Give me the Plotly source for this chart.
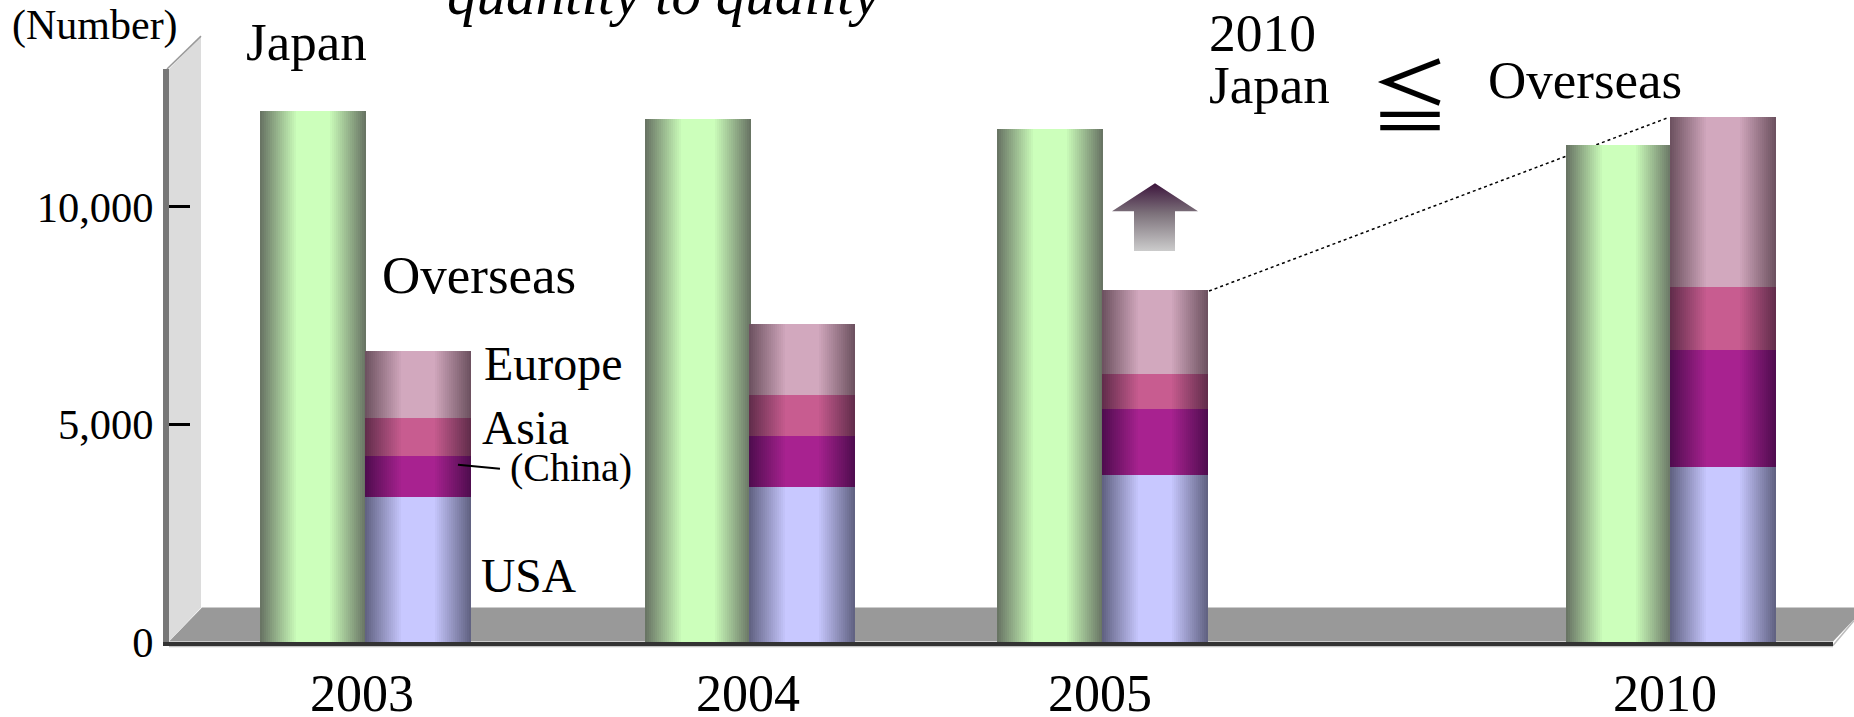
import plotly.graph_objects as go

# ---------- data ----------
years = ["2003", "2004", "2005", "2010"]
japan = [12210, 12030, 11800, 11430]
usa = [3330, 3565, 3835, 4025]
china = [945, 1165, 1510, 2675]
asia = [870, 945, 810, 1470]
europe = [1550, 1625, 1930, 3900]
y_ticks = [0, 5000, 10000]
y_tick_labels = ["0", "5,000", "10,000"]

# ---------- layout geometry (pixels of the 1854x717 page) ----------
W, H = 1854, 717
L, R, T, B = 169, 1833, 68.6, 642.5
PX_PER_UNIT = 0.04358
japan_left = [260, 645, 997, 1566]
overseas_left = [365, 749, 1102, 1670]
year_label_x = [362, 748, 1100, 1665]
BAR_W = 106
STEP = 2
FONT = "Liberation Serif"


def px(x):
    return (x - L) / (R - L)


def py(y):
    return (B - y) / (B - T)


def val(y):
    return (B - y) / PX_PER_UNIT


def hex_rgb(c):
    return [int(c[i:i + 2], 16) for i in (1, 3, 5)]


def shade(edge, centre, u):
    d = abs(u - 0.5) * 2
    t = 0 if d < 0.3 else (d - 0.3) / 0.7
    e, c = hex_rgb(edge), hex_rgb(centre)
    return "rgb(%d,%d,%d)" % tuple(round(c[i] + (e[i] - c[i]) * t) for i in range(3))


def cyl_trace(name, lefts, values, bases, edge, centre):
    xs, ys, bs, cs = [], [], [], []
    n = BAR_W // STEP
    for left, v, b in zip(lefts, values, bases):
        for k in range(n):
            xs.append(left + (k + 0.5) * STEP)
            ys.append(v)
            bs.append(b)
            cs.append(shade(edge, centre, (k + 0.5) / n))
    return go.Bar(name=name, x=xs, y=ys, base=bs, width=STEP,
                  marker=dict(color=cs, line=dict(width=0)),
                  showlegend=False, hoverinfo="skip")


fig = go.Figure()

fig.add_trace(cyl_trace("Japan", japan_left, japan, [0] * 4, "#667162", "#ccffbb"))
base = [0, 0, 0, 0]
stack = [("USA", usa, "#5f6080", "#c8c8ff"),
         ("China", china, "#4e0c4e", "#a82290"),
         ("Asia", asia, "#602c4a", "#c85c90"),
         ("Europe", europe, "#6b505e", "#d2a8be")]
for name, values, edge, centre in stack:
    fig.add_trace(cyl_trace(name, overseas_left, values, base, edge, centre))
    base = [a + b for a, b in zip(base, values)]

# arrow with vertical gradient
ax = [1155, 1198, 1175, 1175, 1134, 1134, 1112, 1155]
ay = [val(v) for v in [183, 211, 211, 251, 251, 211, 211, 183]]
fig.add_trace(go.Scatter(x=ax, y=ay, mode="lines", fill="toself", line=dict(width=0),
                         fillgradient=dict(type="vertical",
                                           colorscale=[[0, "#cccccc"], [0.55, "#7d727b"], [1, "#3c143c"]]),
                         showlegend=False, hoverinfo="skip", cliponaxis=False))

shapes = [
    # floor
    dict(type="path", xref="paper", yref="paper", layer="below", line=dict(width=0), fillcolor="#999999",
         path=f"M {px(169)} {py(642)} L {px(202)} {py(608)} L {px(1854)} {py(608)} L {px(1854)} {py(620)} L {px(1833)} {py(642)} Z"),
    # wall
    dict(type="path", xref="paper", yref="paper", layer="below", line=dict(width=0), fillcolor="#dcdcdc",
         path=f"M {px(169)} {py(T)} L {px(201)} {py(35.7)} L {px(201)} {py(608)} L {px(169)} {py(642)} Z"),
    dict(type="line", xref="paper", yref="paper", layer="below", line=dict(color="#999999", width=1.5),
         x0=px(167), y0=py(T), x1=px(201), y1=py(35.7)),
    # front edge highlights
    dict(type="line", xref="paper", yref="paper", layer="below", line=dict(color="#bbbbbb", width=1.5),
         x0=px(1833), y0=py(646), x1=px(1854), y1=py(621)),
    dict(type="line", xref="paper", yref="paper", layer="below", line=dict(color="#c4c4c4", width=1.5),
         x0=px(169), y0=py(647), x1=px(1833), y1=py(647)),
    # dotted connector
    dict(type="line", xref="paper", yref="paper", layer="below", line=dict(color="#000000", width=1.5, dash="dot"),
         x0=px(1209), y0=py(291), x1=px(1669), y1=py(117)),
    # leader line
    dict(type="line", xref="paper", yref="paper", layer="above", line=dict(color="#000000", width=2),
         x0=px(458), y0=py(465), x1=px(500), y1=py(469)),
]

labels = [
    ("(Number)", 11, 37, 42, "normal"),
    ("Japan", 245, 56, 53, "normal"),
    ("Overseas", 381, 290, 53, "normal"),
    ("Europe", 483, 377, 48, "normal"),
    ("Asia", 481, 441.5, 47.5, "normal"),
    ("(China)", 509, 478.5, 40, "normal"),
    ("USA", 480, 590, 47.5, "normal"),
    ("2010", 1208, 47.5, 53.5, "normal"),
    ("Japan", 1208, 99, 53, "normal"),
    ("Overseas", 1487, 94, 53, "normal"),
    ("quantity to quality", 446, 10, 59, "italic"),
]
annotations = [
    dict(text=t, x=px(x), y=py(b - 0.28 * s), xref="paper", yref="paper", xanchor="left", yanchor="middle",
         showarrow=False, borderpad=0, font=dict(family=FONT, size=s, color="#000000", style=st))
    for t, x, b, s, st in labels
]
annotations.append(dict(text="≦", x=px(1410), y=py(91), xref="paper", yref="paper", xanchor="center",
                        yanchor="middle", showarrow=False, borderpad=0,
                        font=dict(family="Noto Sans CJK JP", size=80, color="#000000")))

fig.update_layout(
    width=W, height=H, autosize=False, margin=dict(l=L, r=W - R, t=T, b=H - B, pad=0),
    paper_bgcolor="#ffffff", plot_bgcolor="rgba(0,0,0,0)", barmode="overlay", bargap=0,
    shapes=shapes, annotations=annotations, showlegend=False,
    font=dict(family=FONT, color="#000000"),
    xaxis=dict(range=[L, R], tickmode="array", tickvals=year_label_x, ticktext=years,
               ticks="", showgrid=False, zeroline=False, showline=True, linecolor="#333333", linewidth=4,
               layer="below traces", tickfont=dict(family=FONT, size=52, color="#000000"),
               automargin=False, fixedrange=True, ticklabelstandoff=3),
    yaxis=dict(range=[0, (B - T) / PX_PER_UNIT], tickmode="array", tickvals=y_ticks, ticktext=y_tick_labels,
               ticks="inside", ticklen=21, tickwidth=3, tickcolor="#000000", showgrid=False, zeroline=False,
               showline=True, linecolor="#777777", linewidth=6, layer="below traces",
               tickfont=dict(family=FONT, size=42.5, color="#000000"), automargin=False, fixedrange=True,
               ticklabelstandoff=1),
)

fig.write_html("out.html", config={"displayModeBar": False},
               post_script="document.body.style.margin='0';")
